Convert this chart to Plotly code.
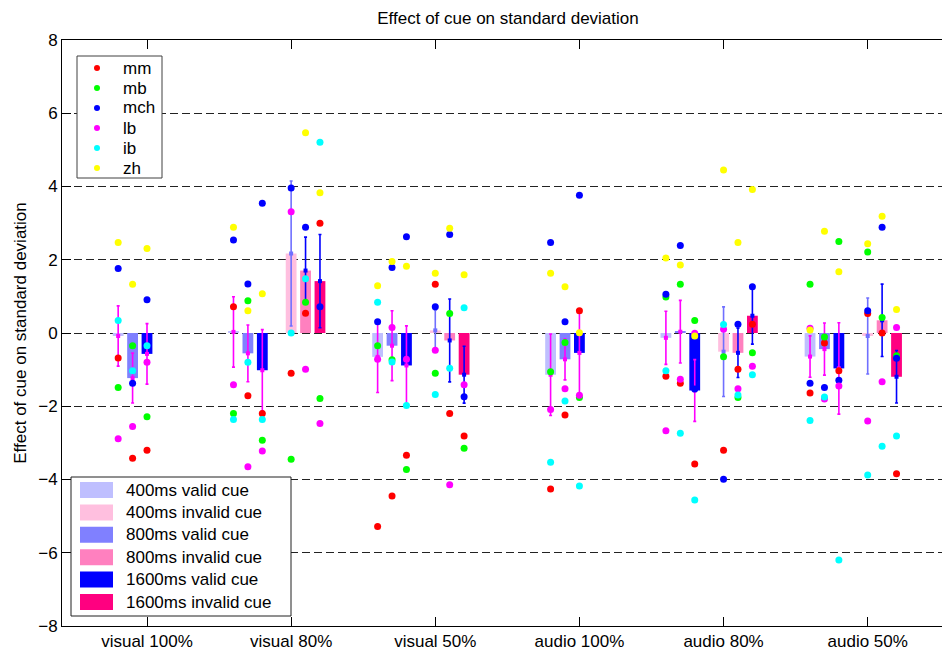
import numpy as np
import plotly.graph_objects as go

groups = ["visual 100%", "visual 80%", "visual 50%", "audio 100%", "audio 80%", "audio 50%"]
subjects = ["mm", "mb", "mch", "lb", "ib", "zh"]
conditions = ["400ms valid cue", "400ms invalid cue", "800ms valid cue",
              "800ms invalid cue", "1600ms valid cue", "1600ms invalid cue"]

# Effect of cue on standard deviation for each subject (mm, mb, mch, lb, ib, zh),
# one list per modality/validity block; None where the condition does not exist.
valid_400 = [
    [-0.68, -1.49, 1.76, -2.89, 0.34, 2.47],
    [0.72, -2.20, 2.54, -1.41, -2.36, 2.89],
    [-5.28, -0.35, 0.31, -0.72, 0.84, 1.29],
    [-4.26, -1.06, 2.47, -2.09, -3.53, 1.63],
    [-1.18, 0.98, 1.06, -2.67, -1.03, 2.05],
    [-1.64, 1.33, -1.37, 0.13, -2.39, 0.08],
]
invalid_400 = [
    None,
    [-1.10, -3.45, 3.96, 3.31, 0.00, 10.30],
    [1.33, -1.10, 0.72, -0.47, -1.68, 1.63],
    None,
    [-3.20, -0.65, -3.99, 0.10, 0.23, 4.45],
    [0.53, 2.21, 0.61, -2.40, -3.88, 2.44],
]
valid_800 = [
    [-3.42, -0.35, -1.37, -2.55, -1.03, 1.33],
    [-1.71, 0.88, 1.34, -3.65, -0.80, 0.61],
    [-4.45, -0.73, 1.79, 0.15, -0.79, 1.95],
    [-2.24, -0.26, 0.31, -1.52, -1.86, 1.26],
    [-1.37, 1.33, 2.39, -1.26, -2.74, 1.86],
    [-0.27, -0.11, -1.49, -1.80, -1.75, 2.78],
]
invalid_800 = [
    None,
    [0.54, 0.84, 2.89, -0.99, 1.48, 5.47],
    [-2.20, 0.53, 2.69, -4.14, -0.96, 2.86],
    None,
    [-0.99, -1.76, 0.24, -1.52, -1.69, 2.47],
    [0.00, 0.42, 2.89, -1.33, -3.09, 3.19],
]
valid_1600 = [
    [-3.20, -2.29, 0.91, -0.80, -0.35, 2.31],
    [-2.20, -2.93, 3.54, -3.22, -2.36, 1.07],
    [-3.34, -3.73, 2.63, -0.72, -1.98, 1.82],
    [0.61, -1.76, 3.76, -1.70, -4.18, 0.01],
    [-3.58, 0.34, -1.53, -0.01, -4.56, -0.08],
    [-1.03, 2.50, -1.29, -1.45, -6.20, 1.67],
]
invalid_1600 = [
    None,
    [3.00, -1.79, 0.72, -2.47, 5.21, 3.83],
    [-2.81, -3.15, -1.74, -1.41, 0.69, 1.59],
    None,
    [0.24, -0.54, 1.26, -0.91, -1.14, 3.92],
    [-3.84, -0.62, -0.69, 0.15, -2.81, 0.64],
]

data = {
    "400ms valid cue": valid_400,
    "400ms invalid cue": invalid_400,
    "800ms valid cue": valid_800,
    "800ms invalid cue": invalid_800,
    "1600ms valid cue": valid_1600,
    "1600ms invalid cue": invalid_1600,
}

bar_colors = ["#BFBFFF", "#FFBFDF", "#8080FF", "#FF80BF", "#0000FF", "#FF0080"]
err_colors = ["#FF00FF", "#7070FF", "#FF00FF", "#0000FF", "#FF00FF", "#0000FF"]
subject_colors = ["#FF0000", "#00FF00", "#0000FF", "#FF00FF", "#00FFFF", "#FFFF00"]

FONT = "Liberation Sans, Arial, sans-serif"
FS = 17
BAR_W = 0.075

# Bar positions: valid cues left of the tick, invalid cues from the tick rightwards;
# blocks without invalid trials are shifted to end at the tick.
def bar_x(group_idx, cond_idx):
    dur = cond_idx // 2
    is_invalid = cond_idx % 2 == 1
    has_invalid = invalid_400[group_idx] is not None
    if is_invalid:
        off = 0.1 * dur
    else:
        off = (-0.4 if has_invalid else -0.2) + 0.1 * dur
    return group_idx + 1 + off

fig = go.Figure()

bar_traces, err_traces = [], []
sub_x = [[] for _ in subjects]
sub_y = [[] for _ in subjects]
for ci, cond in enumerate(conditions):
    xs, means, sems = [], [], []
    for gi, vals in enumerate(data[cond]):
        if vals is None:
            continue
        arr = np.array(vals, dtype=float)
        x = bar_x(gi, ci)
        xs.append(x)
        means.append(arr.mean())
        sems.append(arr.std(ddof=1) / np.sqrt(arr.size))
        for si in range(len(subjects)):
            sub_x[si].append(x)
            sub_y[si].append(vals[si])
    bar_traces.append(go.Bar(
        x=xs, y=means, width=BAR_W, name=cond,
        marker=dict(color=bar_colors[ci], line=dict(width=0)),
        showlegend=False, hoverinfo="skip"))
    err_traces.append(go.Scatter(
        x=xs, y=means, mode="markers", showlegend=False, hoverinfo="skip",
        marker=dict(color=err_colors[ci], size=4, symbol="square"),
        error_y=dict(type="data", array=sems, visible=True,
                     color=err_colors[ci], thickness=1.6, width=1.5)))

for t in bar_traces + err_traces:
    fig.add_trace(t)

for si, name in enumerate(subjects):
    fig.add_trace(go.Scatter(
        x=sub_x[si], y=sub_y[si], mode="markers", name=name, showlegend=False,
        marker=dict(color=subject_colors[si], size=7, line=dict(width=0))))

W, H = 942, 652
ML, MR, MT, MB = 62, 0, 40, 26
PW, PH = W - ML - MR, H - MT - MB

def px(xp):
    return (xp - ML) / PW

def py(yp):
    return (H - MB - yp) / PH

shapes = []
annotations = []

# subject legend (top left)
shapes.append(dict(type="rect", xref="paper", yref="paper", layer="above",
                   x0=px(77), x1=px(162), y0=py(178), y1=py(56),
                   line=dict(color="#404040", width=1), fillcolor="white"))
for si, name in enumerate(subjects):
    yc = 68 + 20 * si
    shapes.append(dict(type="circle", xref="paper", yref="paper", layer="above",
                       xsizemode="pixel", ysizemode="pixel",
                       xanchor=px(97), yanchor=py(yc),
                       x0=-3, x1=3, y0=-3, y1=3,
                       line=dict(width=0), fillcolor=subject_colors[si]))
    annotations.append(dict(text=name, xref="paper", yref="paper",
                            x=px(121), y=py(yc), xanchor="left", yanchor="middle",
                            showarrow=False, font=dict(family=FONT, size=FS, color="black")))

# condition legend (bottom left)
shapes.append(dict(type="rect", xref="paper", yref="paper", layer="above",
                   x0=px(71), x1=px(291), y0=py(616), y1=py(477),
                   line=dict(color="#202020", width=1), fillcolor="white"))
for ci, cond in enumerate(conditions):
    yc = 490 + 22.4 * ci
    shapes.append(dict(type="rect", xref="paper", yref="paper", layer="above",
                       x0=px(80), x1=px(113), y0=py(yc + 8), y1=py(yc - 8),
                       line=dict(width=0), fillcolor=bar_colors[ci]))
    annotations.append(dict(text=cond, xref="paper", yref="paper",
                            x=px(124), y=py(yc), xanchor="left", yanchor="middle",
                            showarrow=False, font=dict(family=FONT, size=FS, color="black")))

fig.update_layout(
    width=W, height=H,
    margin=dict(l=ML, r=MR, t=MT, b=MB, pad=0),
    paper_bgcolor="white", plot_bgcolor="white",
    barmode="overlay", showlegend=False,
    font=dict(family=FONT, size=FS, color="black"),
    title=dict(text="Effect of cue on standard deviation",
               x=508 / W, xref="container", xanchor="center",
               y=1 - 18 / H, yref="container", yanchor="middle",
               font=dict(family=FONT, size=FS, color="black")),
    shapes=shapes, annotations=annotations,
)

fig.update_xaxes(
    range=[0.4103, 0.4103 + PW / 144.14],
    tickmode="array", tickvals=list(range(1, len(groups) + 1)), ticktext=groups,
    ticks="inside", ticklen=9, tickwidth=1, tickcolor="black",
    showline=True, linecolor="black", linewidth=1, mirror="ticks",
    showgrid=False, zeroline=False,
    tickfont=dict(family=FONT, size=FS, color="black"),
)
fig.update_yaxes(
    range=[-8, 8], tickmode="linear", tick0=-8, dtick=2,
    ticks="inside", ticklen=9, tickwidth=1, tickcolor="black",
    showline=True, linecolor="black", linewidth=1, mirror=False,
    showgrid=True, gridcolor="#222222", gridwidth=1, griddash="8px,4px",
    zeroline=False,
    tickfont=dict(family=FONT, size=FS, color="black"),
    title=dict(text="Effect of cue on standard deviation", standoff=7,
               font=dict(family=FONT, size=FS, color="black")),
)

fig.write_html("out.html")
